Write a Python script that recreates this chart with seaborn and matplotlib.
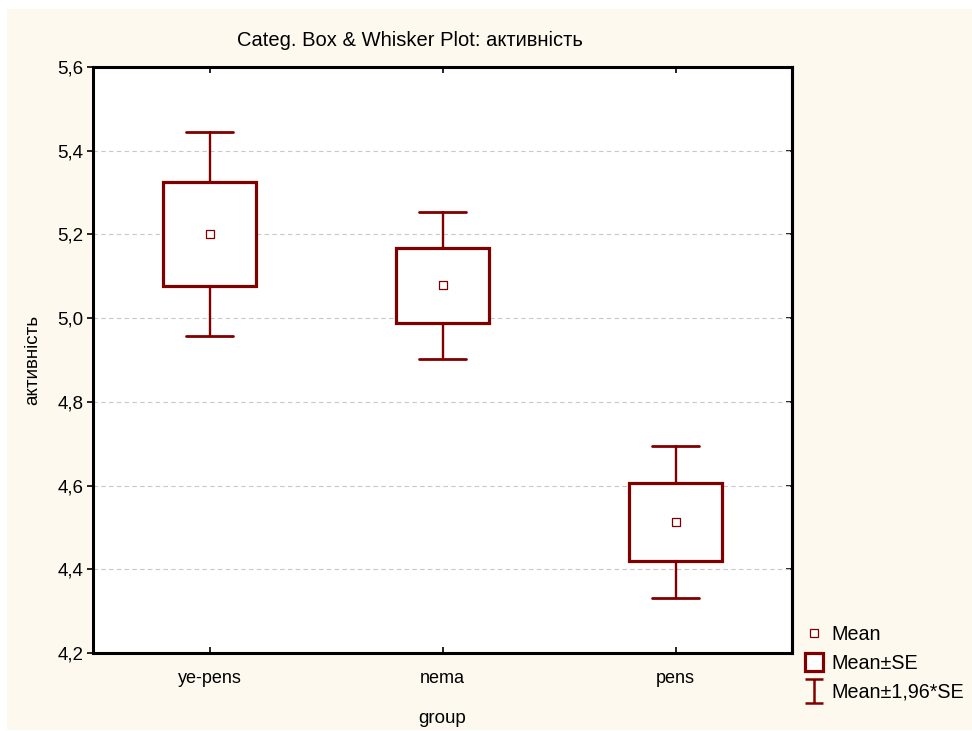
import numpy as np
import pandas as pd
import matplotlib
matplotlib.use("Agg")
import matplotlib.pyplot as plt
from matplotlib.patches import Rectangle
from matplotlib.lines import Line2D
from matplotlib.path import Path
from matplotlib.ticker import FuncFormatter, MultipleLocator, NullFormatter
import seaborn as sns

# Group summaries: mean and standard error of "активність"
groups = ["ye-pens", "nema", "pens"]
means = [5.201, 5.078, 4.513]
se = [0.124, 0.090, 0.093]
z_factor = 1.96

sns.set_theme(style="white")
plt.rcParams["font.family"] = ["Liberation Sans", "DejaVu Sans"]
plt.rcParams["text.color"] = "black"
plt.rcParams["axes.labelcolor"] = "black"

DARK_RED = "#800000"
CREAM = "#fef9ef"

W, H = 972, 731
fig = plt.figure(figsize=(W / 100, H / 100), dpi=100, facecolor="white")
fig.patches.append(Rectangle((7 / W, 1 / H), 1, 721 / H, transform=fig.transFigure,
                             facecolor=CREAM, edgecolor="none", zorder=-5))

ax = fig.add_axes([93 / W, 78 / H, 699 / W, 586 / H])
ax.set_facecolor("white")

positions = np.arange(len(groups))
stats = [
    dict(label=g, mean=m, med=m, q1=m - s, q3=m + s,
         whislo=m - z_factor * s, whishi=m + z_factor * s, fliers=[])
    for g, m, s in zip(groups, means, se)
]
ax.bxp(stats, positions=positions, widths=0.4, capwidths=0.2,
       patch_artist=True, showfliers=False, showmeans=False, manage_ticks=False,
       boxprops=dict(facecolor="white", edgecolor=DARK_RED, linewidth=2.3),
       whiskerprops=dict(color=DARK_RED, linewidth=1.7),
       capprops=dict(color=DARK_RED, linewidth=2.0),
       medianprops=dict(linewidth=0),
       zorder=3)

df = pd.DataFrame({"pos": positions, "mean": means})
sns.scatterplot(data=df, x="pos", y="mean", marker="s", s=38,
                facecolor="white", edgecolor=DARK_RED, linewidth=0.9,
                ax=ax, zorder=4, legend=False)

ax.set_xlim(-0.5, 2.5)
ax.set_ylim(4.2, 5.6)
ax.yaxis.set_major_locator(MultipleLocator(0.2))
ax.yaxis.set_major_formatter(FuncFormatter(lambda v, _: f"{v:.1f}".replace(".", ",")))
ax.set_xticks(positions)
ax.set_xticklabels(groups)

ax.yaxis.grid(True, linestyle=(0, (4, 3)), color="#c8c8c8", linewidth=0.8, zorder=0)
ax.xaxis.grid(False)
ax.set_axisbelow(True)

for sp in ax.spines.values():
    sp.set_visible(True)
    sp.set_color("black")
    sp.set_linewidth(2.2)

ax.tick_params(axis="y", which="major", left=True, direction="out", length=4,
               width=1.2, colors="black", labelsize=13.5, pad=3)
ax.tick_params(axis="x", which="major", bottom=True, top=True, direction="in",
               length=4, width=1.2, colors="black", labelsize=13, pad=12)

# Inward ticks along the right edge
right = ax.secondary_yaxis("right")
right.yaxis.set_major_locator(MultipleLocator(0.2))
right.yaxis.set_major_formatter(NullFormatter())
right.tick_params(direction="in", length=4, width=1.2, colors="black", right=True)
right.spines["right"].set_linewidth(2.2)
right.spines["right"].set_color("black")

ax.set_xlabel("group", fontsize=13.5, labelpad=17)
ax.set_ylabel("активність", fontsize=13.5)
ax.yaxis.set_label_coords(-(93 - 41) / 699, 0.5)

fig.text(409.5 / W, 1 - 40 / H, "Categ. Box & Whisker Plot: активність",
         ha="center", va="center", fontsize=14.5)

# Legend symbols: mean point, ±SE box, ±1.96·SE whisker
i_marker = Path([(-0.8, -1), (0.8, -1), (0, -1), (0, 1), (-0.8, 1), (0.8, 1)],
                [Path.MOVETO, Path.LINETO, Path.MOVETO, Path.LINETO, Path.MOVETO, Path.LINETO])
handles = [
    Line2D([], [], linestyle="none", marker="s", markersize=6,
           markerfacecolor="white", markeredgecolor=DARK_RED, markeredgewidth=0.9),
    Line2D([], [], linestyle="none", marker="s", markersize=13,
           markerfacecolor="white", markeredgecolor=DARK_RED, markeredgewidth=2.3),
    Line2D([], [], linestyle="none", marker=i_marker, markersize=17,
           markerfacecolor="none", markeredgecolor=DARK_RED, markeredgewidth=1.8),
]
labels = ["Mean", "Mean±SE", "Mean±1,96*SE"]
fig.legend(handles, labels, loc="upper left", bbox_to_anchor=(802 / W, 1 - 625 / H),
           frameon=False, fontsize=14.2, handlelength=1.2, handletextpad=0.3,
           labelspacing=0.5, borderaxespad=0, borderpad=0)

fig.savefig("out.png", dpi=100, facecolor="white")
